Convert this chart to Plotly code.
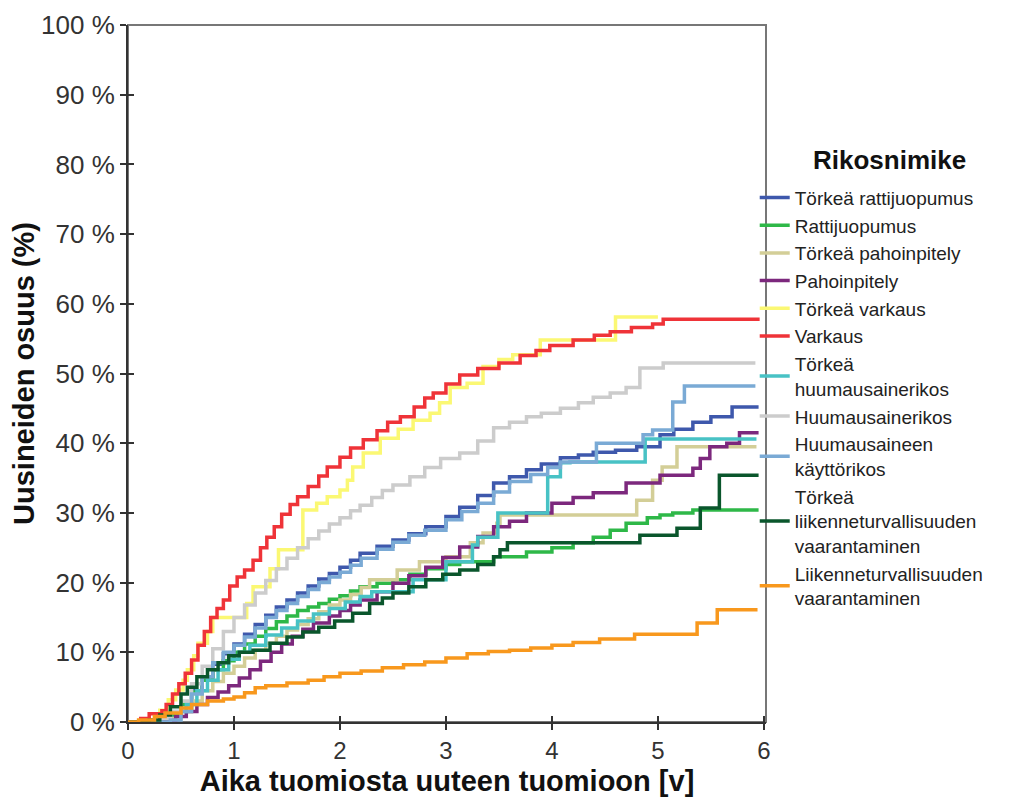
import plotly.graph_objects as go

# ---------------- data ----------------
names = [
    "Törkeä rattijuopumus",
    "Rattijuopumus",
    "Törkeä pahoinpitely",
    "Pahoinpitely",
    "Törkeä varkaus",
    "Varkaus",
    "Törkeä<br>huumausainerikos",
    "Huumausainerikos",
    "Huumausaineen<br>käyttörikos",
    "Törkeä<br>liikenneturvallisuuden<br>vaarantaminen",
    "Liikenneturvallisuuden<br>vaarantaminen",
]
legend_title = "Rikosnimike"

colors = ["#3E58AC", "#2EB848", "#D3CE97", "#7C287D", "#FBF873", "#EF3338",
          "#48C2C5", "#CCCCCC", "#7AAAD5", "#0A562C", "#F8981D"]

# Törkeä rattijuopumus
t_trj = [0, 0.3, 0.4, 0.5, 0.6, 0.7, 0.8, 0.9, 1.0, 1.1, 1.2, 1.3, 1.4, 1.5, 1.6, 1.7, 1.8, 1.9, 2.0, 2.1,
         2.19, 2.35, 2.5, 2.65, 2.81, 3.0, 3.13, 3.3, 3.45, 3.6, 3.76, 3.9, 4.08, 4.25, 4.39, 4.6, 4.8, 5.02,
         5.15, 5.33, 5.5, 5.7, 5.95]
p_trj = [0, 0.3, 1, 2.5, 4.5, 6.5, 8.3, 9.8, 11.2, 12.6, 14, 15.3, 16.5, 17.5, 18.5, 19.5, 20.5, 21.3, 22.2, 23.2,
         24.2, 25.2, 26.1, 27, 28, 29.5, 30.8, 32.5, 34.3, 35.2, 36.2, 37, 37.9, 38.3, 38.7, 39, 39.5, 41.2,
         42, 43, 43.8, 45.2, 45.2]

# Rattijuopumus
t_rj = [0, 0.3, 0.4, 0.5, 0.6, 0.7, 0.8, 0.9, 1.0, 1.1, 1.2, 1.3, 1.4, 1.5, 1.6, 1.7, 1.8, 1.9, 2.0, 2.1,
        2.19, 2.35, 2.5, 2.66, 2.81, 3.0, 3.13, 3.45, 3.76, 4.0, 4.2, 4.39, 4.55, 4.7, 4.9, 5.02, 5.14, 5.33, 5.95]
p_rj = [0, 0.3, 1, 2.5, 4.3, 6, 7.5, 8.8, 10, 11.2, 12.3, 13.4, 14.4, 15.2, 16, 16.5, 17, 17.6, 18.1, 18.8,
        19.4, 19.9, 20.4, 21.2, 22, 22.6, 23, 23.7, 24.4, 25, 25.7, 26.5, 27.5, 28.5, 29.3, 29.7, 30, 30.4, 30.4]

# Törkeä pahoinpitely
t_tpp = [0, 0.4, 0.5, 0.6, 0.7, 0.8, 0.9, 1.0, 1.1, 1.2, 1.3, 1.4, 1.5, 1.6, 1.7, 1.8, 1.9, 2.0, 2.1, 2.2,
         2.28, 2.54, 2.75, 3.0, 3.23, 3.35, 3.48, 3.51, 4.8, 4.95, 5.04, 5.18, 5.93]
p_tpp = [0, 0.5, 1.5, 3, 4.5, 5.8, 7, 8, 9.2, 10.3, 11.3, 12.3, 13.2, 14, 14.8, 15.8, 16.8, 17.5, 18.3, 19.3,
         20.4, 21.8, 23, 23.7, 25.7, 27.1, 28.5, 29.7, 31.8, 34.7, 36.6, 39.5, 39.5]

# Pahoinpitely
t_pp = [0, 0.35, 0.45, 0.55, 0.65, 0.75, 0.85, 0.95, 1.05, 1.15, 1.25, 1.35, 1.45, 1.55, 1.65, 1.75, 1.9, 2.0,
        2.1, 2.19, 2.35, 2.5, 2.65, 2.81, 2.97, 3.13, 3.3, 3.45, 3.6, 3.76, 4.0, 4.2, 4.39, 4.7, 5.02, 5.33,
        5.4, 5.49, 5.65, 5.77, 5.95]
p_pp = [0, 0.2, 0.8, 1.5, 2.5, 3.5, 4.3, 5.2, 6.3, 7.5, 8.7, 10, 11.2, 12.3, 13.3, 14.2, 15.2, 16,
        16.8, 17.5, 18.7, 19.9, 21, 22.2, 23.6, 25.1, 26.6, 28, 28.8, 30, 31.4, 32.2, 32.9, 34.3, 35.4, 36.4,
        37.8, 39.5, 40, 41.5, 41.5]

# Törkeä varkaus
t_tv = [0, 0.25, 0.3, 0.38, 0.45, 0.52, 0.56, 0.62, 0.66, 0.75, 0.8, 1.12, 1.18, 1.34, 1.42, 1.65, 1.78, 1.88,
        2.0, 2.07, 2.12, 2.22, 2.38, 2.55, 2.69, 2.85, 2.94, 3.04, 3.2, 3.35, 3.5, 3.63, 3.89, 4.6, 5.0]
p_tv = [0, 0.6, 1.7, 3.2, 4.6, 6, 7.5, 9.5, 11.3, 13, 15, 17, 19.4, 22, 24.7, 30.4, 31.4, 32.3,
        33.3, 34.7, 36.6, 38.6, 40.7, 42, 43.3, 44.3, 45.8, 48, 48.6, 51, 52, 52.7, 54.8, 58.1, 58.1]

# Varkaus
t_v = [0, 0.12, 0.2, 0.32, 0.36, 0.42, 0.48, 0.54, 0.6, 0.66, 0.72, 0.78, 0.84, 0.9, 0.96, 1.03, 1.1, 1.18,
       1.25, 1.31, 1.38, 1.45, 1.53, 1.6, 1.7, 1.8, 1.88, 2.0, 2.1, 2.22, 2.35, 2.45, 2.57, 2.7, 2.8, 2.88,
       3.0, 3.13, 3.3, 3.5, 3.7, 3.85, 3.98, 4.2, 4.4, 4.55, 4.75, 4.95, 5.05, 5.96]
p_v = [0, 0.5, 1.2, 1.6, 2.5, 4, 5.5, 7, 8.9, 11, 13, 15, 16.3, 17.5, 19.5, 20.8, 21.8, 23.2,
       25, 26.5, 28, 29.8, 31.2, 32.3, 33.8, 35.3, 36.6, 38, 39.3, 40.5, 41.8, 43, 43.8, 45.2, 46.5, 47.2,
       48.5, 49.8, 50.7, 51.5, 52.6, 53.3, 54, 54.8, 55.5, 56, 56.6, 57.1, 57.8, 57.8]

# Törkeä huumausainerikos
t_thr = [0, 0.3, 0.4, 0.55, 0.65, 0.75, 0.85, 0.95, 1.05, 1.15, 1.3, 1.45, 1.6, 1.75, 1.9, 2.05, 2.19, 2.3,
         2.69, 3.0, 3.25, 3.3, 3.49, 3.96, 4.08, 4.17, 4.88, 5.93]
p_thr = [0, 0.5, 1.5, 2.5, 4.5, 6, 7.5, 9, 10, 11, 12.5, 13.5, 14.5, 15.5, 16.3, 17.2, 18, 18.7,
         20.4, 23, 25.4, 26.5, 30, 35.2, 37.2, 37.3, 40.6, 40.6]

# Huumausainerikos
t_hr = [0, 0.3, 0.4, 0.5, 0.6, 0.7, 0.8, 0.9, 1.0, 1.1, 1.2, 1.3, 1.4, 1.5, 1.6, 1.7, 1.8, 1.9, 2.0, 2.1,
        2.19, 2.3, 2.4, 2.5, 2.66, 2.8, 2.95, 3.13, 3.3, 3.45, 3.6, 3.76, 3.9, 4.08, 4.25, 4.39, 4.55, 4.7,
        4.83, 5.05, 5.92]
p_hr = [0, 0.5, 1.5, 3, 5.5, 8, 10.5, 13, 15, 16.8, 18.5, 20.3, 22, 23.5, 25, 26.3, 27.4, 28.4, 29.3, 30.3,
        31.1, 32.2, 33.2, 34, 35.2, 36.5, 37.8, 38.6, 40.3, 42.2, 43, 43.8, 44.3, 45, 45.8, 46.6, 47.2, 48,
        50.8, 51.5, 51.5]

# Huumausaineen käyttörikos
t_hk = [0, 0.4, 0.5, 0.6, 0.7, 0.8, 0.9, 1.0, 1.1, 1.2, 1.3, 1.4, 1.5, 1.6, 1.7, 1.8, 1.9, 2.0, 2.1, 2.2,
        2.35, 2.5, 2.65, 2.8, 3.0, 3.15, 3.3, 3.45, 3.6, 3.8, 3.96, 4.08, 4.42, 4.86, 4.95, 5.14, 5.25, 5.92]
p_hk = [0, 0.3, 1.5, 4, 6.5, 8.5, 10, 11, 12.2, 13.5, 15, 16, 17, 18, 19, 20, 20.8, 21.5, 22.5, 23.5,
        24.8, 25.8, 26.8, 27.5, 29, 30.2, 31.4, 33, 34.5, 35.5, 36.5, 37.3, 40, 41.2, 41.9, 45.9, 48.2, 48.2]

# Törkeä liikenneturvallisuuden vaarantaminen
t_tlv = [0, 0.2, 0.3, 0.4, 0.5, 0.56, 0.65, 0.75, 0.85, 0.95, 1.05, 1.18, 1.34, 1.5, 1.65, 1.8, 1.95, 2.12,
         2.28, 2.4, 2.5, 2.65, 2.81, 2.97, 3.13, 3.3, 3.45, 3.51, 3.58, 4.83, 5.18, 5.4, 5.58, 5.95]
p_tlv = [0, 0.3, 1, 2.2, 4, 5, 6.5, 7.5, 8.5, 9.5, 10, 10.3, 11.3, 12.2, 12.9, 13.6, 14.5, 15.6,
         17, 17.8, 18.5, 19.4, 20.4, 21.2, 21.8, 22.6, 23.7, 24.7, 25.7, 26.8, 27.8, 30.7, 35.4, 35.4]

# Liikenneturvallisuuden vaarantaminen
t_lv = [0, 0.1, 0.25, 0.35, 0.5, 0.6, 0.75, 0.9, 1.0, 1.1, 1.2, 1.3, 1.5, 1.7, 1.85, 2.0, 2.2, 2.4, 2.6, 2.8,
        3.0, 3.2, 3.4, 3.6, 3.8, 4.0, 4.2, 4.45, 4.78, 5.37, 5.56, 5.94]
p_lv = [0, 0.3, 0.8, 1.3, 2, 2.5, 3, 3.3, 3.6, 4.2, 4.9, 5.2, 5.6, 6, 6.5, 7, 7.3, 7.8, 8.2, 8.6,
        9.2, 9.8, 10.1, 10.3, 10.6, 11, 11.4, 11.9, 12.6, 14.2, 16.1, 16.1]

times = [t_trj, t_rj, t_tpp, t_pp, t_tv, t_v, t_thr, t_hr, t_hk, t_tlv, t_lv]
shares = [p_trj, p_rj, p_tpp, p_pp, p_tv, p_v, p_thr, p_hr, p_hk, p_tlv, p_lv]

y_ticks = list(range(0, 101, 10))
y_labels = [f"{v} %" for v in y_ticks]
x_ticks = [0, 1, 2, 3, 4, 5, 6]

# ---------------- figure ----------------
# the page body has an 8px margin, so the figure is 8px smaller and offset
W, H = 1005, 790
FONT = "Liberation Sans, Arial, sans-serif"
fig = go.Figure()
for name, col, tt, pp in zip(names, colors, times, shares):
    fig.add_trace(go.Scatter(
        x=tt, y=pp, mode="lines", name=name, legendgroup=name,
        line=dict(color=col, width=3.5, shape="hv"),
    ))

# helper (empty) trace to draw inward ticks on an overlaid axis pair
fig.add_trace(go.Scatter(x=[], y=[], xaxis="x2", yaxis="y2", showlegend=False,
                         hoverinfo="skip"))

xr = [0, 6.02]
yr = [0, 100]
fig.update_layout(
    width=W, height=H,
    margin=dict(l=120, r=247, t=17, b=76, autoexpand=False),
    paper_bgcolor="white", plot_bgcolor="white",
    font=dict(family=FONT, color="#333333"),
    xaxis=dict(range=xr, tickmode="array", tickvals=x_ticks, showgrid=False, zeroline=False,
               showline=True, linecolor="#333333", linewidth=2, automargin=False,
               ticks="outside", ticklen=6, tickwidth=2, tickcolor="#333333",
               tickfont=dict(size=24, color="#333333"),
               title=dict(text="<b>Aika tuomiosta uuteen tuomioon [v]</b>",
                          font=dict(size=29, color="#111111"), standoff=8)),
    yaxis=dict(range=yr, tickmode="array", tickvals=y_ticks, ticktext=y_labels,
               showgrid=False, zeroline=False, automargin=False,
               showline=True, linecolor="#333333", linewidth=2,
               ticks="outside", ticklen=6, tickwidth=2, tickcolor="#333333",
               tickfont=dict(size=26, color="#333333"),
               title=dict(text="<b>Uusineiden osuus (%)</b>",
                          font=dict(size=29, color="#111111"), standoff=0)),
    xaxis2=dict(range=xr, tickvals=x_ticks, overlaying="x", anchor="y2", showgrid=False,
                zeroline=False, showline=False, ticks="inside", ticklen=6, tickwidth=2,
                tickcolor="#333333", showticklabels=False),
    yaxis2=dict(range=yr, tickvals=y_ticks, overlaying="y", anchor="x2", showgrid=False,
                zeroline=False, showline=False, ticks="inside", ticklen=6, tickwidth=2,
                tickcolor="#333333", showticklabels=False),
    legend=dict(
        xref="container", yref="container", x=0.743, y=0.784,
        xanchor="left", yanchor="top", maxheight=640,
        font=dict(family=FONT, size=19, color="#222222"),
        traceorder="grouped", tracegroupgap=0, itemwidth=30,
        bgcolor="rgba(0,0,0,0)",
    ),
    annotations=[dict(text=f"<b>{legend_title}</b>", xref="paper", yref="paper",
                      x=1.193, y=0.806, xanchor="center", yanchor="middle", showarrow=False,
                      font=dict(family=FONT, size=26, color="#111111"))],
    shapes=[dict(type="rect", xref="paper", yref="paper", x0=0, x1=1, y0=0, y1=1,
                 line=dict(color="#777777", width=2), layer="below")],
)

fig.write_html("out.html")
